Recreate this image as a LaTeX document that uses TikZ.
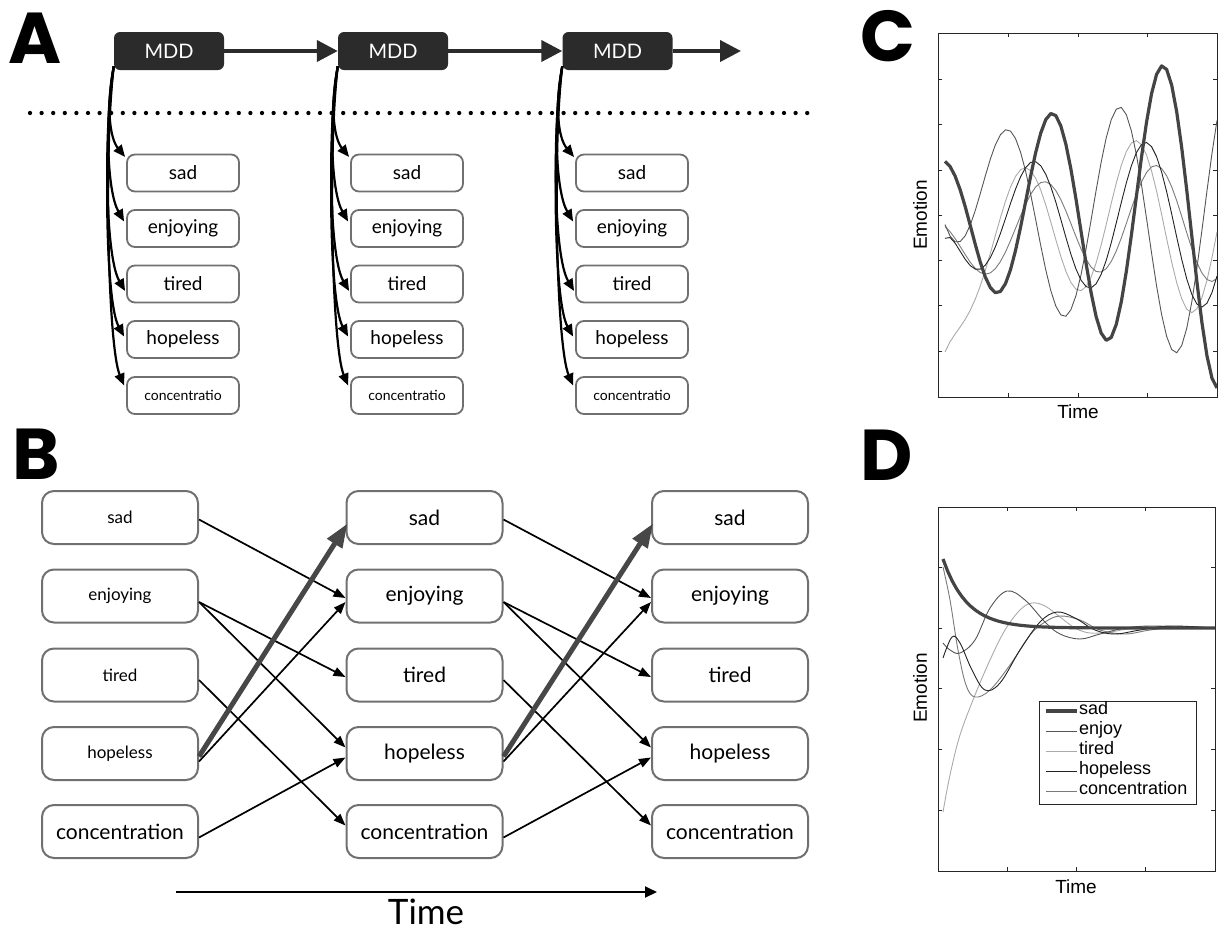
\documentclass[tikz,border=0pt]{standalone}
\usepackage{fontspec}
\setmainfont{Lato}
\newfontfamily\letterfont{Poppins}
\newfontfamily\plotfont{Liberation Sans}
\usetikzlibrary{arrows.meta,calc}
\newcommand\fsz[1]{\fontsize{#1}{#1}\selectfont}
\definecolor{boxgray}{HTML}{707070}
\definecolor{mddgray}{HTML}{2B2B2B}
\definecolor{thickgray}{HTML}{474747}
\definecolor{sadc}{HTML}{444444}
\definecolor{enjc}{HTML}{555555}
\definecolor{tirc}{HTML}{AAAAAA}
\definecolor{hopc}{HTML}{222222}
\definecolor{conc}{HTML}{7A7A7A}
\begin{document}
\begin{tikzpicture}[x=1pt, y=-1pt,
 abox/.style={draw=boxgray, line width=1.8pt, rounded corners=8pt, minimum width=112pt, minimum height=37pt, inner sep=0pt, fill=white, font=\fsz{19}},
 mddbox/.style={fill=mddgray, rounded corners=6pt, minimum width=110pt, minimum height=38pt, inner sep=0pt, text=white, font=\fsz{20}},
 bbox/.style={draw=boxgray, line width=2pt, rounded corners=12pt, minimum width=156pt, minimum height=53pt, inner sep=0pt, fill=white, font=\fsz{21}},
 smallb/.style={font=\fsz{17}},
 mddarrow/.style={draw=mddgray, line width=4pt, -{Triangle[length=21pt,width=21pt]}},
 curvarrow/.style={draw=black, line width=2.2pt, -{Triangle[length=12pt,width=10pt]}},
 thinarrow/.style={draw=black, line width=1.7pt, -{Triangle[length=12pt,width=9pt]}},
 thickarrow/.style={draw=thickgray, line width=5pt, -{Triangle[length=24pt,width=17pt]}},
 panel/.style={font=\letterfont\bfseries\fsz{72}, inner sep=0pt, anchor=base west},
 axis/.style={line width=0.8pt, draw=black!85},
 plotlbl/.style={font=\plotfont\fsz{19}, inner sep=0pt},
 leglbl/.style={font=\plotfont\fsz{18}, inner sep=0pt, anchor=mid west},
 sadline/.style={draw=sadc, line width=3.2pt, line join=round},
 enjline/.style={draw=enjc, line width=0.9pt},
 tirline/.style={draw=tirc, line width=0.9pt},
 hopline/.style={draw=hopc, line width=0.9pt},
 conline/.style={draw=conc, line width=0.9pt}
]
\useasboundingbox (0,0) rectangle (1219,930);

% ---------- panel letters
\node[panel] (labA) at (8,63) {A};
\node[panel] (labB) at (12,479) {B};
\node[panel] (labC) at (860,61) {C};
\node[panel] (labD) at (860,480) {D};

% ---------- panel A
\foreach \c/\cx in {1/169, 2/393, 3/617.5} {
  \node[mddbox] (m\c) at (\cx,51) {MDD};
}
\draw[mddarrow] (m1) -- (m2);
\draw[mddarrow] (m2) -- (m3);
\coordinate (mend) at (741,51);
\draw[mddarrow] (m3.east) -- (mend);

\coordinate (dotL) at (30,113);
\coordinate (dotR) at (815,113);
\draw[line width=4.3pt, line cap=round, dash pattern=on 0pt off 11.6pt] (dotL) -- (dotR);

\foreach \c/\cx in {1/183, 2/407, 3/632} {
  \node[abox] (a\c1) at (\cx,173) {sad};
  \node[abox] (a\c2) at (\cx,228.5) {enjoying};
  \node[abox] (a\c3) at (\cx,284) {tired};
  \node[abox] (a\c4) at (\cx,339.5) {hopeless};
  \node[abox, font=\fsz{14}] (a\c5) at (\cx,395.5) {concentratio};
  \coordinate (s\c) at ($(m\c.south west)+(0,-4)$);
  \draw[curvarrow] (s\c) .. controls ($(s\c)+(-8,40)$) and ($(s\c)+(-4,72)$) .. ($(a\c1.west)+(-1,-16)$);
  \draw[curvarrow] (s\c) .. controls ($(s\c)+(-9,50)$) and ($(s\c)+(-7,125)$) .. ($(a\c2.west)+(-2,-7)$);
  \draw[curvarrow] (s\c) .. controls ($(s\c)+(-10,60)$) and ($(s\c)+(-9,190)$) .. ($(a\c3.west)+(-1,7)$);
  \draw[curvarrow] (s\c) .. controls ($(s\c)+(-10,70)$) and ($(s\c)+(-9,235)$) .. ($(a\c4.west)+(-2,-3)$);
  \draw[curvarrow] (s\c) .. controls ($(s\c)+(-10,80)$) and ($(s\c)+(-6,280)$) .. ($(a\c5.west)+(-2,-10)$);
}

% ---------- panel B
\node[bbox, smallb] (b11) at (120,517.5) {sad};
\node[bbox, smallb] (b12) at (120,596) {enjoying};
\node[bbox, smallb] (b13) at (120,675) {tired};
\node[bbox, smallb] (b14) at (120,753.5) {hopeless};
\node[bbox] (b15) at (120,831.5) {concentration};
\foreach \c/\cx in {2/424.5, 3/730} {
  \node[bbox] (b\c1) at (\cx,517.5) {sad};
  \node[bbox] (b\c2) at (\cx,596) {enjoying};
  \node[bbox] (b\c3) at (\cx,675) {tired};
  \node[bbox] (b\c4) at (\cx,753.5) {hopeless};
  \node[bbox] (b\c5) at (\cx,831.5) {concentration};
}
\foreach \c/\d in {1/2, 2/3} {
  \draw[thinarrow] ($(b\c1.east)+(0,2)$) -- ($(b\d2.west)+(0,2)$);
  \draw[thinarrow] ($(b\c2.east)+(0,6)$) -- ($(b\d3.west)+(0,2)$);
  \draw[thinarrow] ($(b\c2.east)+(0,6)$) -- ($(b\d4.west)+(0,-6)$);
  \draw[thinarrow] ($(b\c3.east)+(0,5)$) -- ($(b\d5.west)+(0,-6)$);
  \draw[thinarrow] ($(b\c4.east)+(0,8)$) -- ($(b\d2.west)+(0,6)$);
  \draw[thinarrow] ($(b\c5.east)+(0,6)$) -- ($(b\d4.west)+(0,4)$);
  \draw[thickarrow] ($(b\c4.east)+(0,3)$) -- ($(b\d1.west)+(2,6)$);
}
\coordinate (tS) at (176,892);
\coordinate (tE) at (657,892);
\draw[line width=2pt, -{Triangle[length=12pt,width=11pt]}] (tS) -- (tE);
\node[anchor=base, inner sep=0pt, font=\fsz{35}] (timeB) at (426,924) {Time};

% ---------- panel C
\draw[axis] (938,33) rectangle (1217,397);
\foreach \yy in {79,124,170,215,260,305,351} {
  \draw[axis] (938,\yy) -- (942,\yy);
  \draw[axis] (1217,\yy) -- (1213,\yy);
}
\foreach \xx in {1008,1078,1147} {
  \draw[axis] (\xx,397) -- (\xx,393);
  \draw[axis] (\xx,33) -- (\xx,37);
}
\node[plotlbl, rotate=90] (emoC) at (920,215) {Emotion};
\node[plotlbl] (timeC) at (1078,412) {Time};
\begin{scope}
\clip (938,33) rectangle (1217,397);
\draw[tirline] plot[domain=945:1217, samples=55, variable=\x] (\x, {221-(58+0.2*(\x-1023))*sin(3.2143*(\x-995))+117*exp(-(\x-945)/25)});
\draw[conline] plot[domain=945:1217, samples=55, variable=\x] (\x, {220-(40+0.1*(\x-1000))*sin(3.2143*(\x-1015))+31*exp(-(\x-945)/60)});
\draw[enjline] plot[domain=945:1217, samples=55, variable=\x] (\x, {222-(62+0.3*(\x-945))*sin(3.2143*(\x-979))-56*exp(-(\x-945)/40)});
\draw[hopline] plot[domain=945:1217, samples=55, variable=\x] (\x, {220-(50+0.17*(\x-983))*sin(3.2143*(\x-1005))+28*exp(-(\x-945)/8)});
\draw[sadline] plot[domain=945:1217, samples=55, variable=\x] (\x, {215-(56+0.43*(\x-945))*sin(3.2432*(\x-1023))});
\end{scope}

% ---------- panel D
\draw[axis] (938,507) rectangle (1215,871);
\foreach \yy in {567,628,688,749,810} {
  \draw[axis] (938,\yy) -- (942,\yy);
  \draw[axis] (1215,\yy) -- (1211,\yy);
}
\foreach \xx in {1007,1076,1145} {
  \draw[axis] (\xx,871) -- (\xx,867);
  \draw[axis] (\xx,507) -- (\xx,511);
}
\node[plotlbl, rotate=90] (emoD) at (920,688) {Emotion};
\node[plotlbl] (timeD) at (1076,887) {Time};
\begin{scope}
\clip (938,507) rectangle (1215,871);
\draw[tirline] plot[smooth, tension=0.6] coordinates {(943,812) (950,775) (960,735) (975,695) (990,660) (1005,630) (1020,610) (1032,603) (1045,606) (1060,617) (1075,628) (1090,633) (1110,632) (1140,628) (1215,628)};
\draw[conline] plot[smooth, tension=0.6] coordinates {(943,567) (950,600) (958,650) (966,685) (975,697) (990,690) (1010,665) (1030,635) (1045,622) (1060,616) (1080,620) (1100,630) (1125,634) (1150,630) (1180,627) (1215,628)};
\draw[enjline] plot[smooth, tension=0.6] coordinates {(943,643) (950,650) (960,653) (975,640) (990,608) (1007,591) (1025,600) (1045,622) (1060,634) (1080,639) (1100,634) (1125,628) (1150,626) (1180,627) (1215,628)};
\draw[hopline] plot[smooth, tension=0.6] coordinates {(943,658) (952,637) (960,643) (972,670) (985,690) (1000,683) (1020,650) (1040,622) (1057,612) (1075,618) (1095,630) (1115,634) (1140,630) (1170,626) (1215,628)};
\draw[sadline] plot[domain=943:1215, samples=60, variable=\x] (\x, {628-69*exp(-(\x-943)/24)});
\end{scope}
\node[draw=black!85, line width=0.8pt, fill=white, minimum width=157pt, minimum height=103pt, anchor=north west, inner sep=0pt] (legD) at (1039,701) {};
\coordinate (l1a) at (1046,711); \coordinate (l1b) at (1077,711);
\coordinate (l2a) at (1046,731); \coordinate (l2b) at (1077,731);
\coordinate (l3a) at (1046,751); \coordinate (l3b) at (1077,751);
\coordinate (l4a) at (1046,771); \coordinate (l4b) at (1077,771);
\coordinate (l5a) at (1046,791); \coordinate (l5b) at (1077,791);
\draw[sadline] (l1a) -- (l1b);
\draw[enjline] (l2a) -- (l2b);
\draw[tirline] (l3a) -- (l3b);
\draw[hopline] (l4a) -- (l4b);
\draw[conline] (l5a) -- (l5b);
\node[leglbl] (lg1) at (1079,712) {sad};
\node[leglbl] (lg2) at (1079,732) {enjoy};
\node[leglbl] (lg3) at (1079,752) {tired};
\node[leglbl] (lg4) at (1079,772) {hopeless};
\node[leglbl] (lg5) at (1079,792) {concentration};
\end{tikzpicture}
\end{document}
